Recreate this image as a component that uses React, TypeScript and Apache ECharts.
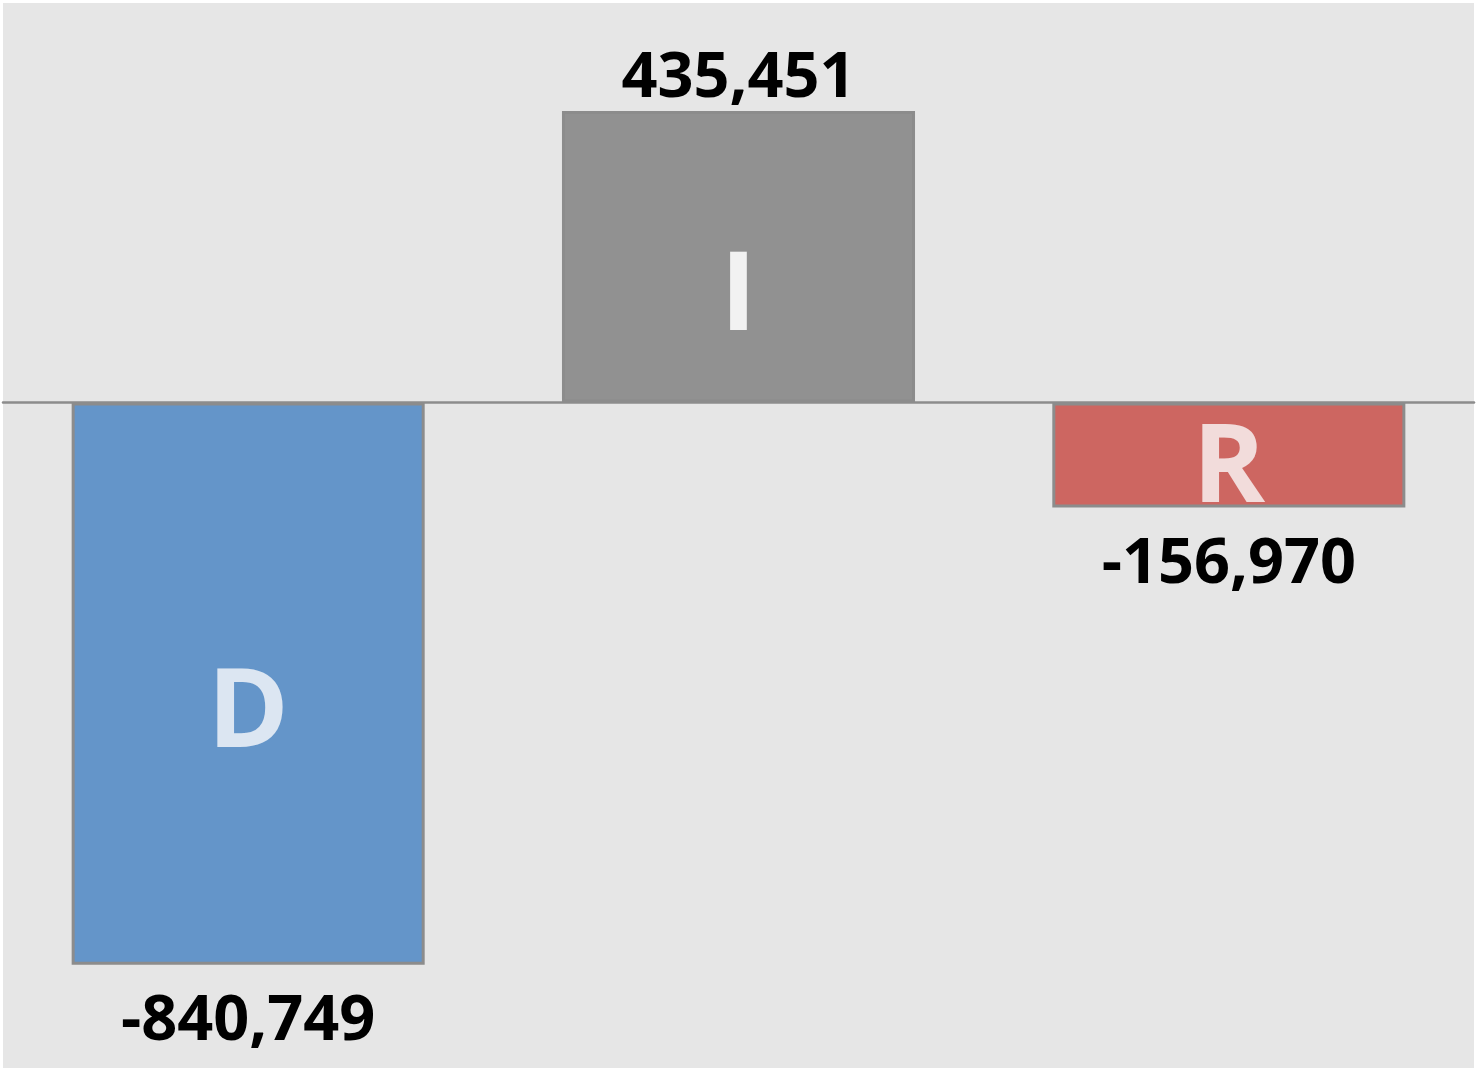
import React, { useEffect, useRef } from "react";
import * as echarts from "echarts";

const categories = ["D", "I", "R"];
const values = [-840749, 435451, -156970];
const barColors = ["#6495C9", "#919191", "#CD6661"];
const letterColors = ["#DCE6F2", "#F2F2F2", "#F2DCDB"];
const letterShift = [20, 30, 4];

const fmt = (v: number) => v.toLocaleString("en-US");

export default function App() {
  const ref = useRef<HTMLDivElement>(null);
  useEffect(() => {
    if (!ref.current) return;
    const chart = echarts.init(ref.current, undefined, { renderer: "svg" });
    const font = "'Open Sans', 'DejaVu Sans', sans-serif";
    chart.setOption({
      animation: false,
      backgroundColor: "#ffffff",
      grid: {
        left: 3,
        right: 6,
        top: 3,
        bottom: 3,
        show: true,
        backgroundColor: "#e6e6e6",
        borderWidth: 0,
        containLabel: false,
      },
      xAxis: {
        type: "category",
        data: categories,
        axisLine: { show: true, onZero: true, lineStyle: { color: "#8c8c8c", width: 2.5 } },
        axisTick: { show: false },
        axisLabel: { show: false },
        splitLine: { show: false },
        z: 10,
      },
      yAxis: {
        type: "value",
        min: -995000,
        max: 597000,
        show: false,
        splitLine: { show: false },
      },
      series: [
        {
          type: "bar",
          barWidth: "72%",
          barGap: "-100%",
          data: values.map((v, i) => ({
            value: v,
            itemStyle: { color: barColors[i], borderColor: "#8c8c8c", borderWidth: 3 },
            label: {
              show: true,
              position: v < 0 ? "bottom" : "top",
              distance: v < 0 ? 21 : 9,
              formatter: () => fmt(v),
              color: "#000000",
              fontFamily: font,
              fontWeight: "bold",
              fontSize: 63,
              lineHeight: 60,
            },
          })),
        },
        {
          type: "bar",
          barWidth: "72%",
          barGap: "-100%",
          silent: true,
          itemStyle: { color: "transparent" },
          data: values.map((v, i) => ({
            value: v,
            label: {
              show: true,
              position: "inside",
              offset: [0, letterShift[i]],
              formatter: categories[i],
              color: letterColors[i],
              fontFamily: font,
              fontWeight: "bold",
              fontSize: 110,
              lineHeight: 84,
            },
          })),
        },
      ],
    });
    return () => chart.dispose();
  }, []);
  return (
    <div
      ref={ref}
      style={{ position: "absolute", left: 0, top: 0, width: 1480, height: 1071 }}
    />
  );
}
